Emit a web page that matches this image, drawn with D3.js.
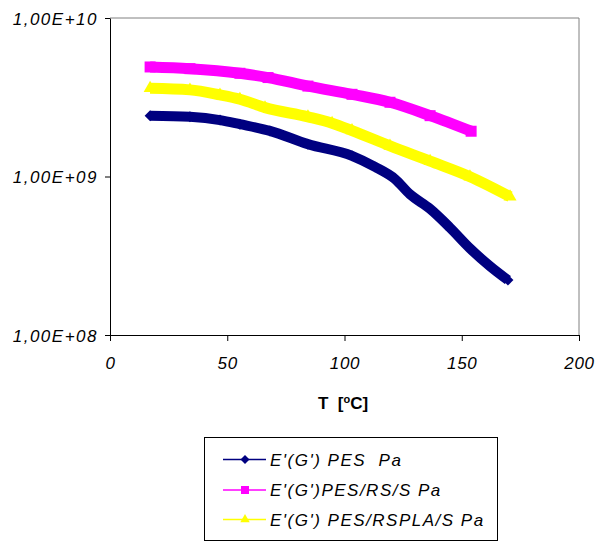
<!DOCTYPE html>
<html>
<head>
<meta charset="utf-8">
<script src="https://cdn.jsdelivr.net/npm/d3@7"></script>
<style>
  html, body { margin: 0; padding: 0; background: #fff; }
  svg { display: block; }
  text { font-family: "Liberation Sans", Arial, sans-serif; }
</style>
</head>
<body>
<svg id="chart" width="597" height="543"></svg>
<script>
// Temperature (°C) and storage modulus (Pa) for each material
const tempPES = [17.1, 34.1, 46.9, 55.4, 68.2, 84.4, 103.2, 113.0, 121.5, 127.9, 136.5, 145.0, 153.5, 162.0, 169.7];
const modPES  = [2.42e9, 2.38e9, 2.27e9, 2.14e9, 1.94e9, 1.60e9, 1.35e9, 1.15e9, 9.65e8, 7.72e8, 6.24e8, 4.75e8, 3.52e8, 2.72e8, 2.22e8];

const tempRS = [17.1, 34.1, 55.4, 67.4, 84.4, 103.2, 119.4, 136.5, 154.0];
const modRS  = [4.91e9, 4.79e9, 4.48e9, 4.21e9, 3.72e9, 3.30e9, 2.94e9, 2.42e9, 1.93e9];

const tempRSPLA = [17.1, 34.1, 46.9, 55.4, 66.1, 84.4, 94.7, 103.2, 119.4, 136.5, 153.5, 170.6];
const modRSPLA  = [3.60e9, 3.52e9, 3.27e9, 3.07e9, 2.72e9, 2.38e9, 2.17e9, 1.95e9, 1.56e9, 1.25e9, 9.97e8, 7.46e8];

const seriesNames = ["E'(G') PES  Pa", "E'(G')PES/RS/S Pa", "E'(G') PES/RSPLA/S Pa"];
const xTicks = [0, 50, 100, 150, 200];
const yTicks = [1e8, 1e9, 1e10];
const xTitle = "T  [";

const series = [
  { name: seriesNames[1], t: tempRS, v: modRS, color: "#FF00FF", marker: "square", width: 11 },
  { name: seriesNames[2], t: tempRSPLA, v: modRSPLA, color: "#FFFF00", marker: "triangle", width: 11 },
  { name: seriesNames[0], t: tempPES, v: modPES, color: "#000080", marker: "diamond", width: 10 }
];
const legendOrder = [series[2], series[0], series[1]];

const svg = d3.select("#chart");
const plot = { left: 110, right: 579, top: 18, bottom: 335 };

const x = d3.scaleLinear().domain([0, 200]).range([plot.left, plot.right]);
const y = d3.scaleLog().domain([1e8, 1e10]).range([plot.bottom, plot.top]);

// plot frame: grey on top and right
svg.append("path")
  .attr("d", `M${plot.left},${plot.top}H${plot.right}V${plot.bottom}`)
  .attr("fill", "none").attr("stroke", "#808080").attr("stroke-width", 1);

function markerPath(kind, s) {
  if (kind === "square") return d3.symbol(d3.symbolSquare, s * s)();
  if (kind === "triangle") return d3.symbol(d3.symbolTriangle, s * s * 0.6)();
  // diamond: a square turned 45 degrees
  const h = s / 2;
  return `M0,${-h}L${h},0L0,${h}L${-h},0Z`;
}

// data series: dense markers merge into a thick band
const line = d3.line().x(d => x(d[0])).y(d => y(d[1])).curve(d3.curveMonotoneX);
series.forEach(s => {
  const pts = s.t.map((t, i) => [t, s.v[i]]);
  const g = svg.append("g");
  g.append("path")
    .attr("d", line(pts))
    .attr("fill", "none")
    .attr("stroke", s.color)
    .attr("stroke-width", s.width)
    .attr("stroke-linejoin", "round");
  g.selectAll("path.m").data(pts).join("path")
    .attr("class", "m")
    .attr("transform", d => `translate(${x(d[0])},${y(d[1])})`)
    .attr("d", markerPath(s.marker, s.marker === "diamond" ? 11 : s.width))
    .attr("fill", s.color);
});

// axes
const labelFont = "'Liberation Sans', Arial, sans-serif";
const xAxis = d3.axisBottom(x).tickValues(xTicks).tickSize(6).tickSizeOuter(0).tickFormat(d3.format("d"));
const yAxis = d3.axisLeft(y).tickValues(yTicks).tickSize(5).tickSizeOuter(0)
  .tickFormat(d => "1,00E+" + String(Math.round(Math.log10(d))).padStart(2, "0"));

const gx = svg.append("g").attr("transform", `translate(0,${plot.bottom})`).call(xAxis);
gx.selectAll("text")
  .attr("y", 22).attr("dy", "0.71em")
  .attr("font-size", 17).attr("font-style", "italic").attr("letter-spacing", 0.7)
  .attr("fill", "#000").attr("font-family", labelFont);
const gy = svg.append("g").attr("transform", `translate(${plot.left},0)`).call(yAxis);
gy.selectAll("text")
  .attr("x", -12).attr("dy", "0.36em")
  .attr("font-size", 17).attr("font-style", "italic").attr("letter-spacing", 1.5)
  .attr("fill", "#000").attr("font-family", labelFont);
[gx, gy].forEach(g => {
  g.select(".domain").attr("stroke", "#000");
  g.selectAll(".tick line").attr("stroke", "#000");
});

// x axis title with superscript degree
const title = svg.append("text")
  .attr("x", 318).attr("y", 409)
  .attr("font-size", 17).attr("font-weight", "bold").attr("fill", "#000")
  .attr("xml:space", "preserve");
title.append("tspan").text(xTitle);
title.append("tspan").attr("font-size", 11).attr("dy", -6).text("o");
title.append("tspan").attr("dy", 6).text("C]");

// legend
const lg = svg.append("g");
lg.append("rect")
  .attr("x", 204.5).attr("y", 437.5).attr("width", 293).attr("height", 103)
  .attr("fill", "#fff").attr("stroke", "#000").attr("stroke-width", 1);
const rowY = [459.5, 490, 519.5];
legendOrder.forEach((s, i) => {
  const cy = rowY[i];
  lg.append("line")
    .attr("x1", 223).attr("x2", 266).attr("y1", cy).attr("y2", cy)
    .attr("stroke", s.color).attr("stroke-width", 1.5);
  lg.append("path")
    .attr("transform", `translate(245,${cy})`)
    .attr("d", markerPath(s.marker, s.marker === "diamond" ? 9 : 8))
    .attr("fill", s.color);
  lg.append("text")
    .attr("x", 270).attr("y", cy).attr("dy", "0.36em")
    .attr("font-size", 17).attr("font-style", "italic").attr("letter-spacing", 1.5)
    .attr("fill", "#000").attr("xml:space", "preserve")
    .text(s.name);
});
</script>
</body>
</html>
